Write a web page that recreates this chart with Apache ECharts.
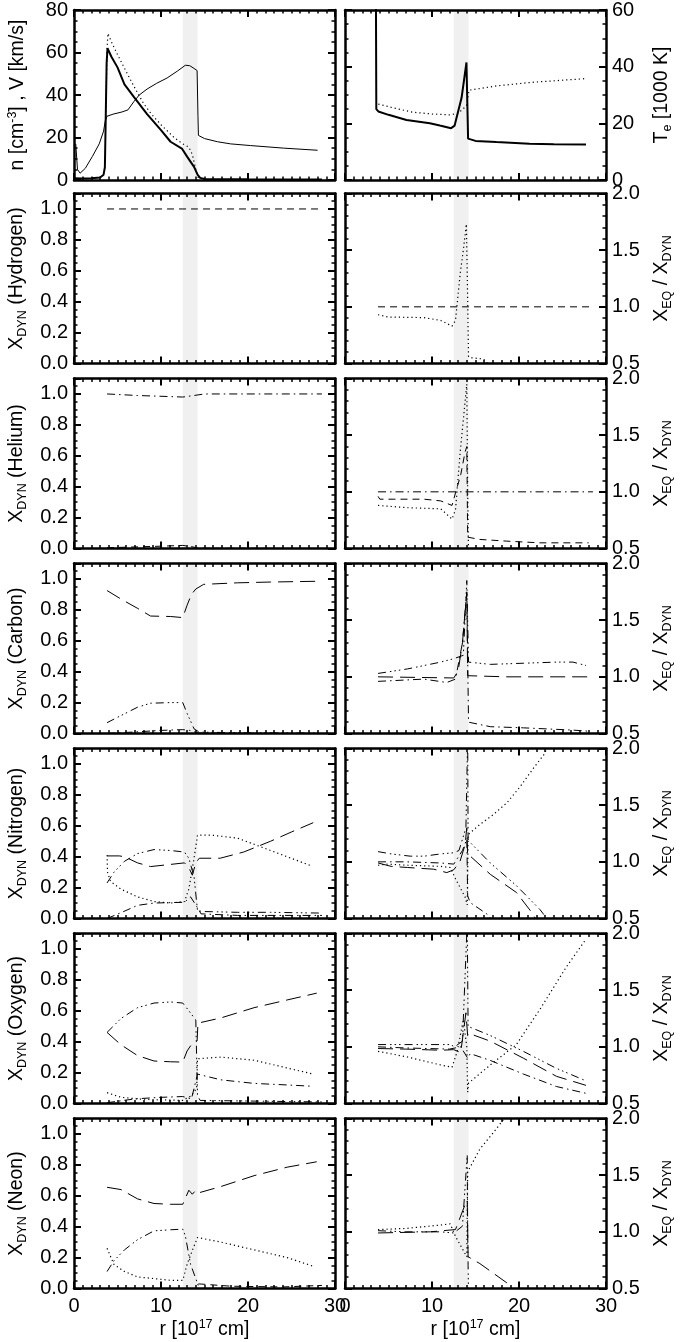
<!DOCTYPE html>
<html><head><meta charset="utf-8">
<script src="https://cdn.jsdelivr.net/npm/echarts@6/dist/echarts.min.js"></script>
<style>html,body{margin:0;padding:0;background:#fff}#c{width:681px;height:1342px}</style>
</head><body><div id="c"></div>
<script>
// ---------- DATA (x in 1e17 cm, y values) ----------
const band = [12.5, 14.2];
const xTicks = [0, 10, 20, 30];

// Row 1 left: density / velocity
const velThin = [[0.2,17],[0.4,5],[0.7,3.2],[1.3,5.5],[2.1,11],[2.9,17],[3.4,23],[3.6,28],[3.8,30],[4.5,31],[5.5,32],[6.2,33],[6.9,37],[7.5,40],[8.4,42.8],[9.5,45.5],[10.7,48],[11.9,51.3],[12.8,54],[13.3,53.8],[13.8,52.5],[14.15,51.5],[14.25,30],[14.3,21],[15.0,19.5],[16.5,18],[18.0,17],[20.3,16.2],[24.1,15],[28.0,14]];
const denThick = [[0,0.8],[1,0.7],[2,0.8],[3,1.2],[3.4,2.5],[3.55,6],[3.65,30],[3.75,55],[3.85,62],[4.3,58],[5.0,53],[5.8,45],[6.9,39],[8.4,31],[10.0,23.5],[11.1,18],[12.4,14.8],[13.0,11],[13.8,6.2],[14.2,2.5],[14.5,1.0],[15,0.5],[20,0.3],[28.5,0.2]];
const denDotted = [[3.65,30],[3.8,62],[3.9,69],[4.3,65],[5.0,59],[6.0,51],[6.9,44],[8.0,36],[8.9,31],[10.0,26],[11.5,20],[12.5,17],[13.2,15.5],[13.6,12],[14.0,5],[14.3,1]];
// Row 1 right: electron temperature
const teThick = [[3.55,70],[3.6,25],[3.83,24.2],[5.0,23],[7.07,21.2],[9.75,20.0],[10.9,19.2],[12.2,18.3],[12.6,19.2],[13.4,29],[13.96,41.5],[14.15,14.6],[15,13.8],[17.4,13.4],[21.2,12.8],[24,12.6],[27.7,12.5]];
const teDotted = [[3.83,26.8],[5.5,25.5],[7.84,23.9],[10,23.3],[12.0,23.0],[13.0,23.5],[13.96,26.2],[14.26,31.7],[17.4,33.2],[21.2,34.4],[27.7,35.8]];
// Hydrogen
const hydDashed = [[3.8,1.0],[12.5,1.0],[14.2,1.0],[28.5,1.0]];
const hydRatioDashed = [[3.8,1.0],[14.2,1.0],[28.5,1.0]];
const hydRatioDotted = [[3.8,0.93],[5,0.91],[9.06,0.905],[11,0.88],[12.3,0.83],[12.7,0.88],[13.25,1.30],[13.6,1.5],[13.95,1.73],[14.05,1.3],[14.15,0.8],[14.2,0.56],[14.6,0.55],[15.9,0.54],[17,0.45]];
// Helium
const helDashDot = [[3.8,1.0],[7.3,0.99],[10,0.985],[12.5,0.98],[13.8,0.99],[15,1.0],[18.8,1.0],[28.5,1.0]];
const helDashedLow = [[3.8,0.005],[7,0.01],[10,0.015],[12.5,0.02],[13.5,0.012],[14.3,0.002],[28.5,0.0]];
const helRatioDashDot = [[3.8,1.0],[14.1,1.0],[28.5,1.0]];
const helRatioDashed = [[3.8,0.96],[4.0,0.935],[5.6,0.935],[9.1,0.935],[11.0,0.92],[12.3,0.88],[12.7,0.99],[13.3,1.15],[13.8,1.35],[14.0,1.4],[14.1,0.6],[15.5,0.58],[18.6,0.565],[22.4,0.55],[26.2,0.55],[28,0.55]];
const helRatioDotted = [[3.8,0.88],[7.2,0.86],[11.0,0.85],[12.3,0.76],[12.7,0.84],[13.25,1.36],[14.0,1.95],[14.1,1.0],[14.2,0.45]];
// Carbon
const carLongDash = [[3.8,0.925],[5.4,0.87],[7.3,0.81],[8.8,0.76],[11.1,0.757],[12.5,0.75],[13.0,0.83],[13.5,0.9],[14.0,0.935],[14.9,0.965],[18.8,0.975],[22.6,0.98],[27.9,0.985]];
const carDashDot3 = [[3.8,0.07],[5.4,0.116],[7.3,0.17],[8.8,0.196],[11.1,0.20],[12.5,0.20],[13.0,0.13],[13.8,0.03],[14.4,0.009],[20,0.004],[28.5,0.003]];
const carDashDotLow = [[3.8,0.0],[7,0.01],[10,0.02],[12.5,0.025],[13.3,0.02],[14.3,0.003],[28,0.0]];
const carRatioLongDash = [[3.8,1.0],[12.5,0.99],[13.0,1.05],[13.5,1.3],[14.0,1.75],[14.1,1.01],[18.6,1.0],[28.5,1.0]];
const carRatioDashDot3 = [[3.8,1.03],[7.2,1.07],[11.0,1.13],[12.5,1.16],[13.6,1.19],[14.0,1.85],[14.2,1.13],[16.7,1.11],[20.5,1.12],[24.3,1.13],[26.2,1.13],[27.7,1.10]];
const carRatioDashDot = [[3.8,0.96],[9.06,0.98],[11.7,0.95],[12.7,0.98],[13.5,1.3],[14.0,1.75],[14.2,0.6],[16.7,0.56],[20.5,0.55],[26.2,0.53],[28,0.52]];
// Nitrogen
const nitLongDash = [[3.8,0.405],[5.2,0.405],[5.8,0.40],[7.3,0.36],[8.8,0.336],[11.1,0.35],[12.7,0.36],[13.2,0.33],[13.6,0.28],[14.0,0.36],[14.4,0.39],[16.8,0.39],[19.5,0.43],[22.6,0.50],[25,0.56],[27.5,0.62]];
const nitDashDot3 = [[3.8,0.23],[4.6,0.30],[5.8,0.37],[7.3,0.42],[9.2,0.446],[11.1,0.44],[12.7,0.43],[13.2,0.39],[13.8,0.27],[14.2,0.05],[15,0.045],[18.8,0.04],[22.6,0.04],[28.5,0.035]];
const nitDotted = [[3.8,0.41],[3.85,0.30],[4.2,0.24],[5.4,0.19],[7.3,0.14],[9.2,0.11],[11.1,0.10],[12.7,0.11],[13.2,0.19],[13.8,0.39],[14.2,0.54],[15.7,0.54],[18.8,0.52],[22.6,0.44],[27.3,0.34]];
const nitDashDotLow = [[3.8,0.0],[5.5,0.04],[7.3,0.085],[9.2,0.10],[12.7,0.105],[13.4,0.14],[14.2,0.07],[14.6,0.03],[18.8,0.02],[28.5,0.02]];
const nitRatioDotted = [[3.8,0.97],[4.9,0.98],[7.2,0.97],[11.0,0.96],[12.1,0.95],[12.7,0.85],[13.8,0.69],[14.05,0.62],[14.15,1.24],[15.5,1.33],[17.1,1.42],[18.6,1.52],[20.1,1.66],[21.6,1.82],[23.0,1.96],[23.3,2.05]];
const nitRatioDashDot3 = [[3.8,1.09],[5.3,1.07],[7.5,1.05],[9.1,1.05],[11,1.07],[12.5,1.08],[13.1,1.10],[13.9,1.3],[14.1,2.1],[14.15,1.2],[14.4,1.17],[16.7,0.99],[19.7,0.79],[22.4,0.58],[23,0.52],[23.5,0.45]];
const nitRatioLongDash = [[3.8,0.99],[5.3,0.96],[7.2,0.95],[10.2,0.935],[11.7,0.905],[12.5,0.93],[13.2,1.0],[13.8,1.15],[14.0,1.3],[14.1,1.05],[14.4,1.05],[16.7,0.89],[19.7,0.73],[21.6,0.54],[22,0.48]];
const nitRatioDashDot = [[3.8,1.0],[7,1.0],[11,0.99],[12.5,0.98],[13.5,1.1],[14.0,1.2],[14.1,0.7],[14.4,0.64],[16.3,0.54],[17,0.48]];
// Oxygen
const oxyDashDot3 = [[3.8,0.46],[5.4,0.55],[7.3,0.62],[9.2,0.65],[11.1,0.657],[12.5,0.65],[13.2,0.60],[14.0,0.54],[14.2,0.05],[14.5,0.02],[28.5,0.01]];
const oxyLongDash = [[3.8,0.46],[5.4,0.38],[7.3,0.31],[9.2,0.275],[11.1,0.27],[12.5,0.268],[13.0,0.34],[13.6,0.39],[14.15,0.405],[14.25,0.52],[16.9,0.554],[20.7,0.62],[24.5,0.67],[27.9,0.714]];
const oxyDotted = [[3.8,0.07],[5.4,0.04],[7.3,0.03],[9,0.025],[12.5,0.02],[13.5,0.05],[14.1,0.1],[14.2,0.29],[16.9,0.30],[20.7,0.28],[24.5,0.23],[27.5,0.19]];
const oxyDashDot = [[3.8,0.005],[7,0.03],[10,0.04],[12.5,0.045],[13.5,0.03],[14.2,0.19],[16.9,0.153],[20.7,0.13],[24.5,0.12],[27.3,0.112]];
const oxyRatioDotted = [[3.8,0.96],[7.2,0.91],[11.0,0.84],[12.3,0.82],[12.9,0.96],[13.6,1.24],[14.0,1.0],[14.1,0.6],[14.2,0.68],[16.7,0.84],[19.7,1.02],[22.4,1.33],[25.4,1.70],[27.7,1.95]];
const oxyRatioDashDot3 = [[3.8,1.02],[7,1.02],[12.1,1.02],[12.6,1.0],[13.5,1.05],[14.05,2.1],[14.15,1.18],[16.7,1.10],[20.5,0.96],[24.3,0.81],[27.7,0.70]];
const oxyRatioLongDash = [[3.8,0.985],[7,0.98],[11,0.97],[12.5,0.975],[13.3,0.95],[13.9,1.3],[14.1,1.1],[14.2,1.12],[16.7,1.05],[20.5,0.90],[24.3,0.74],[27.7,0.66]];
const oxyRatioDashDot = [[3.8,1.0],[7,0.99],[12,0.98],[13.3,1.0],[14.1,0.9],[14.4,0.94],[16.7,0.88],[20.5,0.76],[24.3,0.65],[27.7,0.59]];
// Neon
const neoLongDash = [[3.8,0.655],[5.4,0.64],[7.3,0.58],[9.2,0.55],[11.1,0.545],[12.5,0.545],[12.7,0.57],[13.2,0.636],[13.6,0.61],[14.0,0.636],[14.4,0.62],[16.9,0.66],[20.7,0.73],[24.5,0.785],[27.9,0.82]];
const neoDashDot3 = [[3.8,0.11],[4.6,0.18],[5.8,0.25],[7.3,0.316],[9.2,0.373],[11.1,0.38],[12.5,0.384],[12.8,0.34],[13.4,0.156],[14.0,0.064],[14.4,0.0]];
const neoDotted = [[3.8,0.26],[4.6,0.155],[5.8,0.11],[7.3,0.075],[9.2,0.064],[11.1,0.053],[12.5,0.053],[13.0,0.156],[13.6,0.247],[14.2,0.33],[16.9,0.30],[20.7,0.25],[24.5,0.20],[27.5,0.144]];
const neoDashedLow = [[14.3,0.03],[18,0.015],[24,0.01],[28.5,0.02]];
const neoRatioDashDot3 = [[3.8,1.01],[7,1.0],[11,1.0],[12.5,0.99],[13.5,1.05],[14.05,1.68],[14.1,1.0],[14.15,0.7],[14.2,0.45]];
const neoRatioLongDash = [[3.8,0.99],[9.8,1.0],[12.7,1.02],[13.8,1.24],[14.05,1.28],[14.15,0.78],[15.5,0.72],[18.6,0.55],[19.2,0.5],[19.5,0.45]];
const neoRatioDotted = [[3.8,1.02],[7,1.03],[11,1.06],[12.1,1.07],[12.7,0.96],[14.0,0.78],[14.1,1.53],[15.5,1.73],[17.1,1.88],[18.2,1.99],[18.5,2.05]];

// ---------- STYLES / LAYOUT ----------
const FONT = 'Liberation Sans, Arial, Helvetica, sans-serif';
const DASH = {
  solid: 'solid',
  dotted: [1.2, 3],
  dashed: [7, 5],
  longdash: [15, 7],
  dashdot: [8, 4, 1.5, 4],
  dashdot3: [8, 4, 1.5, 3, 1.5, 3, 1.5, 4]
};
const rows = [
  { lname: 'n [cm{sup|-3}] , V [km/s]', rname: 'T{sub|e} [1000 K]',
    L: [[velThin,'solid',1],[denThick,'solid',2],[denDotted,'dotted',1.2]],
    R: [[teThick,'solid',2],[teDotted,'dotted',1.2]] },
  { lname: 'X{sub|DYN} (Hydrogen)', rname: 'X{sub|EQ} / X{sub|DYN}',
    L: [[hydDashed,'dashed',1]], R: [[hydRatioDashed,'dashed',1],[hydRatioDotted,'dotted',1.2]] },
  { lname: 'X{sub|DYN} (Helium)', rname: 'X{sub|EQ} / X{sub|DYN}',
    L: [[helDashDot,'dashdot',1],[helDashedLow,'dashed',1]],
    R: [[helRatioDashDot,'dashdot',1],[helRatioDashed,'dashed',1],[helRatioDotted,'dotted',1.2]] },
  { lname: 'X{sub|DYN} (Carbon)', rname: 'X{sub|EQ} / X{sub|DYN}',
    L: [[carLongDash,'longdash',1],[carDashDot3,'dashdot3',1],[carDashDotLow,'dashdot',1]],
    R: [[carRatioLongDash,'longdash',1],[carRatioDashDot3,'dashdot3',1],[carRatioDashDot,'dashdot',1]] },
  { lname: 'X{sub|DYN} (Nitrogen)', rname: 'X{sub|EQ} / X{sub|DYN}',
    L: [[nitLongDash,'longdash',1],[nitDashDot3,'dashdot3',1],[nitDotted,'dotted',1.2],[nitDashDotLow,'dashdot',1]],
    R: [[nitRatioDotted,'dotted',1.2],[nitRatioDashDot3,'dashdot3',1],[nitRatioLongDash,'longdash',1],[nitRatioDashDot,'dashdot',1]] },
  { lname: 'X{sub|DYN} (Oxygen)', rname: 'X{sub|EQ} / X{sub|DYN}',
    L: [[oxyDashDot3,'dashdot3',1],[oxyLongDash,'longdash',1],[oxyDotted,'dotted',1.2],[oxyDashDot,'dashdot',1]],
    R: [[oxyRatioDotted,'dotted',1.2],[oxyRatioDashDot3,'dashdot3',1],[oxyRatioLongDash,'longdash',1],[oxyRatioDashDot,'dashdot',1]] },
  { lname: 'X{sub|DYN} (Neon)', rname: 'X{sub|EQ} / X{sub|DYN}',
    L: [[neoLongDash,'longdash',1],[neoDashDot3,'dashdot3',1],[neoDotted,'dotted',1.2],[neoDashedLow,'dashed',1]],
    R: [[neoRatioDashDot3,'dashdot3',1],[neoRatioLongDash,'longdash',1],[neoRatioDotted,'dotted',1.2]] }
];
const rowTop = [8.5, 193.5, 378.5, 563.5, 748.5, 933.5, 1118.5];
const rowH = [171.5, 170, 170, 170, 170, 170, 170];
const colLeft = [74, 345];
const colW = 261;

const rich = {
  sub: { fontSize: 12.5, fontFamily: FONT, color: '#000', padding: [12, 0, 0, 0] },
  sup: { fontSize: 12.5, fontFamily: FONT, color: '#000', padding: [0, 0, 10, 0] }
};
const nameStyle = { fontSize: 19.5, fontFamily: FONT, color: '#000', rich };
const labelStyle = { fontSize: 20, fontFamily: FONT, color: '#000' };

function tickCfg() {
  return {
    axisLine: { show: true, onZero: false, lineStyle: { color: '#000', width: 2.5 } },
    axisTick: { show: true, inside: true, length: 7, lineStyle: { color: '#000', width: 2 } },
    splitLine: { show: false }, minorSplitLine: { show: false }
  };
}

const grids = [], xAxes = [], yAxes = [], series = [];
rows.forEach((row, r) => {
  [0, 1].forEach(c => {
    const g = grids.length;
    grids.push({ left: colLeft[c], top: rowTop[r], width: colW, height: rowH[r], containLabel: false, show: false });
    const last = r === rows.length - 1;
    ['bottom', 'top'].forEach(pos => {
      xAxes.push(Object.assign(tickCfg(), {
        type: 'value', gridIndex: g, position: pos, min: xTicks[0], max: xTicks[xTicks.length - 1], interval: xTicks[1] - xTicks[0], z: 10,
        minorTick: { show: true, splitNumber: 10, length: 3.5, lineStyle: { color: '#000', width: 1.5 } },
        axisLabel: { show: last && pos === 'bottom', margin: 8, ...labelStyle },
        name: (last && pos === 'bottom') ? 'r [10{sup|17} cm]' : '',
        nameLocation: 'middle', nameGap: 30, nameTextStyle: nameStyle
      }));
    });
    let yc;
    if (c === 0) yc = r === 0 ? { min: 0, max: 80, interval: 20, minor: 4, fmt: v => String(v) }
                              : { min: 0, max: 1.1, interval: 0.2, minor: 4, fmt: v => v.toFixed(1) };
    else yc = r === 0 ? { min: 0, max: 60, interval: 20, minor: 4, fmt: v => String(v) }
                      : { min: 0.5, max: 2.0, interval: 0.5, minor: 5, fmt: v => v.toFixed(1) };
    ['left', 'right'].forEach(pos => {
      const labeled = (c === 0 && pos === 'left') || (c === 1 && pos === 'right');
      yAxes.push(Object.assign(tickCfg(), {
        type: 'value', gridIndex: g, position: pos, min: yc.min, max: yc.max, interval: yc.interval, z: 10,
        minorTick: { show: true, splitNumber: yc.minor, length: 3.5, lineStyle: { color: '#000', width: 1.5 } },
        axisLabel: { show: labeled, margin: 6, formatter: yc.fmt, showMaxLabel: !(c === 0 && r > 0), showMinLabel: true, ...labelStyle },
        name: labeled ? (c === 0 ? row.lname : row.rname) : '',
        nameLocation: 'middle', nameRotate: 90, nameGap: c === 0 ? 45 : 43, nameTextStyle: nameStyle
      }));
    });
    const list = c === 0 ? row.L : row.R;
    list.forEach((s, k) => {
      const ser = {
        type: 'line', xAxisIndex: 2 * g, yAxisIndex: 2 * g + c, data: s[0],
        showSymbol: false, symbol: 'none', clip: true, z: 3,
        lineStyle: { color: '#000', width: s[2], type: DASH[s[1]] }
      };
      if (k === 0) ser.markArea = { silent: true, itemStyle: { color: '#f0f0f0' }, data: [[{ xAxis: band[0] }, { xAxis: band[1] }]] };
      series.push(ser);
    });
  });
});

const chart = echarts.init(document.getElementById('c'), null, { renderer: 'canvas' });
chart.setOption({ animation: false, backgroundColor: '#fff', grid: grids, xAxis: xAxes, yAxis: yAxes, series });
</script></body></html>
